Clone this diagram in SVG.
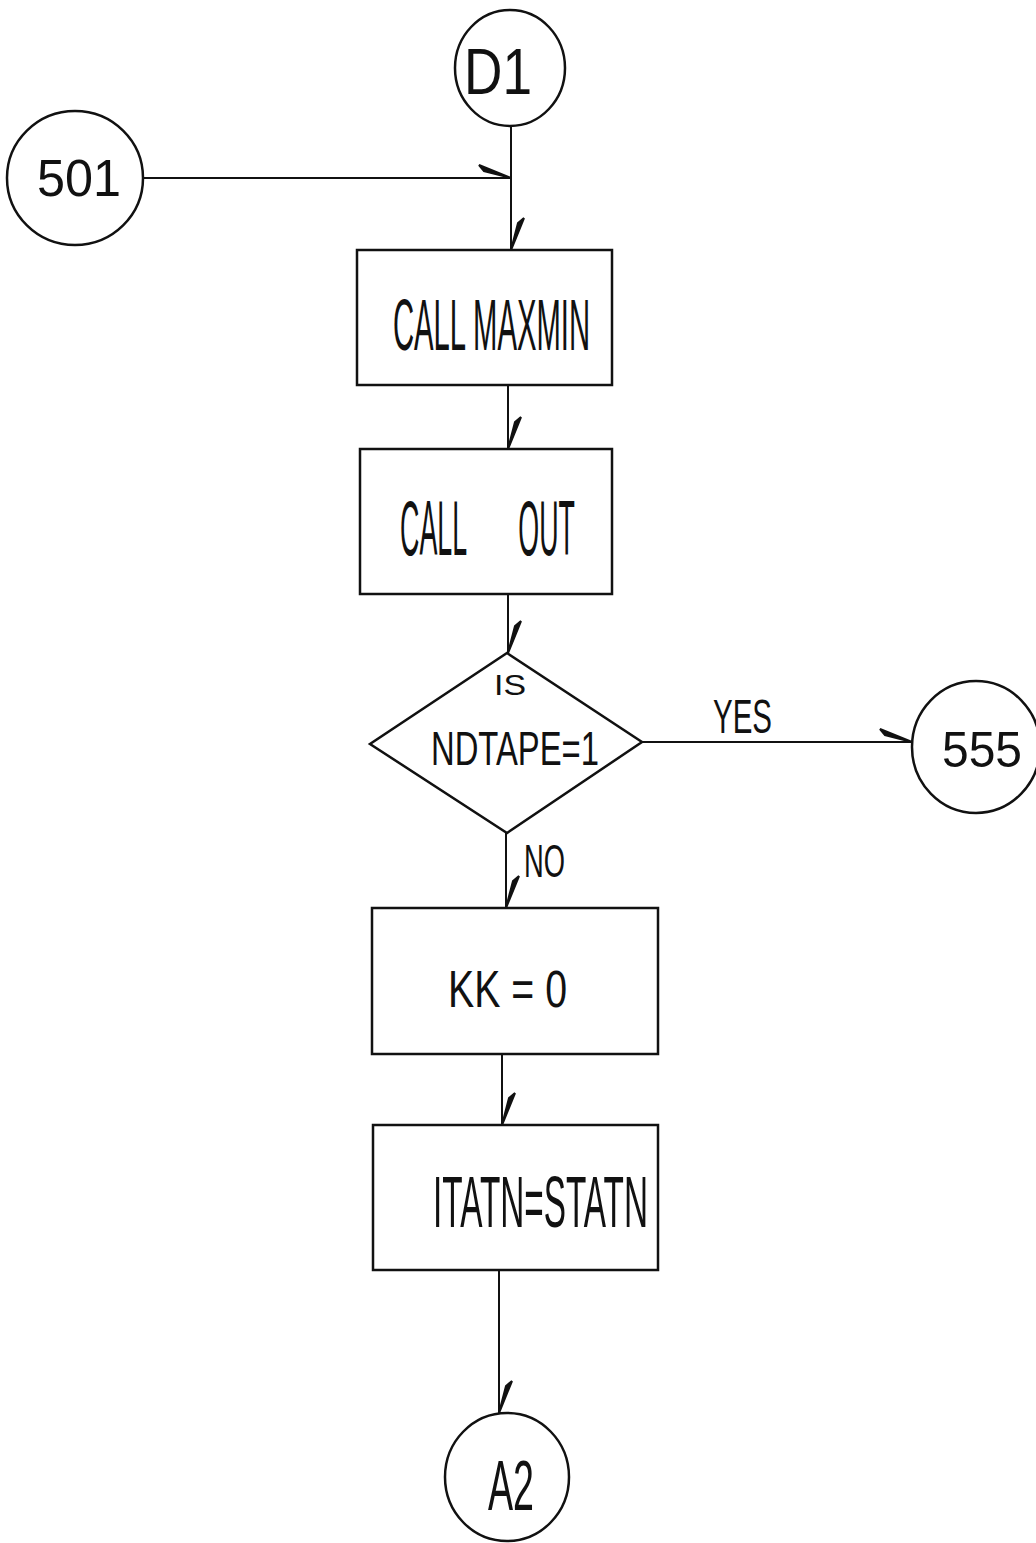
<svg xmlns="http://www.w3.org/2000/svg" width="1036" height="1543" viewBox="0 0 1036 1543">
<style>
.shape{fill:none;stroke:#111;stroke-width:2.5}
.conn{fill:none;stroke:#111;stroke-width:2}
.lbl{font-family:"Liberation Sans Narrow","Liberation Sans","DejaVu Sans Condensed",sans-serif;fill:#111}
.pre{white-space:pre}
</style>
<defs>
<marker id="barb" markerUnits="userSpaceOnUse" orient="auto" markerWidth="50" markerHeight="50" refX="0" refY="0" viewBox="-40 -20 50 40" overflow="visible">
<path d="M0,0 L-32,-13 L-27,-7 Z" fill="#111" stroke="#111" stroke-width="2"/>
</marker>
</defs>
<rect width="1036" height="1543" fill="#fff"/>
<g id="connectors">
<path class="conn" d="M143,178 L511,178" marker-end="url(#barb)"/>
<path class="conn" d="M511,125 L511,250" marker-end="url(#barb)"/>
<path class="conn" d="M508,385 L508,449" marker-end="url(#barb)"/>
<path class="conn" d="M508,594 L508,653" marker-end="url(#barb)"/>
<path class="conn" d="M642,742 L912,742" marker-end="url(#barb)"/>
<path class="conn" d="M506,833 L506,908" marker-end="url(#barb)"/>
<path class="conn" d="M502,1054 L502,1125" marker-end="url(#barb)"/>
<path class="conn" d="M499,1270 L499,1413" marker-end="url(#barb)"/>
<text class="lbl" x="713" y="733" font-size="48" textLength="59" lengthAdjust="spacingAndGlyphs">YES</text>
<text class="lbl" x="524" y="877" font-size="46" textLength="41" lengthAdjust="spacingAndGlyphs">NO</text>
</g>
<g id="D1">
<ellipse class="shape" cx="510" cy="68" rx="55" ry="58"/>
<text class="lbl" x="464" y="94" font-size="64" textLength="68" lengthAdjust="spacingAndGlyphs">D1</text>
</g>
<g id="n501">
<ellipse class="shape" cx="75" cy="178" rx="68" ry="67"/>
<text class="lbl" x="37" y="196" font-size="52" textLength="84" lengthAdjust="spacingAndGlyphs">501</text>
</g>
<g id="maxmin">
<rect class="shape" x="357" y="250" width="255" height="135"/>
<text class="lbl" x="393" y="350" font-size="72" textLength="197" lengthAdjust="spacingAndGlyphs">CALL MAXMIN</text>
</g>
<g id="out">
<rect class="shape" x="360" y="449" width="252" height="145"/>
<text class="lbl pre" xml:space="preserve" x="400" y="555" font-size="78" textLength="175" lengthAdjust="spacingAndGlyphs">CALL       OUT</text>
</g>
<g id="decision">
<polygon class="shape" points="507,653 642,742 507,833 370,744"/>
<text class="lbl" x="494" y="695" font-size="30" textLength="32" lengthAdjust="spacingAndGlyphs">IS</text>
<text class="lbl" x="431" y="765" font-size="49" textLength="168" lengthAdjust="spacingAndGlyphs">NDTAPE=1</text>
</g>
<g id="n555">
<ellipse class="shape" cx="976" cy="747" rx="64" ry="66"/>
<text class="lbl" x="942" y="767" font-size="50" textLength="80" lengthAdjust="spacingAndGlyphs">555</text>
</g>
<g id="kk">
<rect class="shape" x="372" y="908" width="286" height="146"/>
<text class="lbl" x="448" y="1007" font-size="52" textLength="119" lengthAdjust="spacingAndGlyphs">KK = 0</text>
</g>
<g id="itatn">
<rect class="shape" x="373" y="1125" width="285" height="145"/>
<text class="lbl" x="433" y="1227" font-size="72" textLength="215" lengthAdjust="spacingAndGlyphs">ITATN=STATN</text>
</g>
<g id="A2">
<ellipse class="shape" cx="507" cy="1477" rx="62" ry="64"/>
<text class="lbl" x="488" y="1510" font-size="70" textLength="46" lengthAdjust="spacingAndGlyphs">A2</text>
</g>
</svg>
